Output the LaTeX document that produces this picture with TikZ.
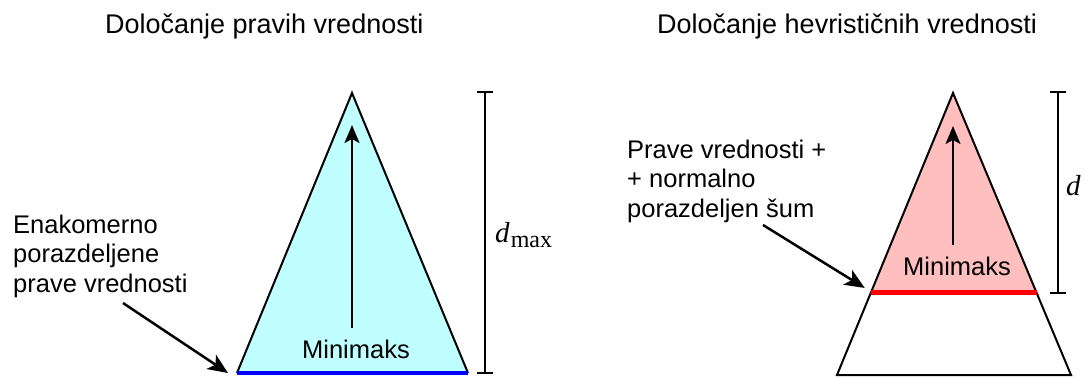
\documentclass[tikz,border=0pt]{standalone}
\usepackage{fontspec}
\setmainfont{Liberation Sans}
\newfontfamily\serifd{Liberation Serif}
\usetikzlibrary{arrows.meta,calc}
\definecolor{lcyan}{RGB}{191,255,255}
\definecolor{lpink}{RGB}{255,191,191}
\begin{document}
\begin{tikzpicture}[x=1pt,y=-1pt,
  title/.style={anchor=base west,inner sep=0pt,font=\fontsize{27}{30}\selectfont},
  label/.style={anchor=base west,inner sep=0pt,align=left,font=\fontsize{25.5}{29.5}\selectfont},
  mm/.style={anchor=base,inner sep=0pt,font=\fontsize{25.5}{30}\selectfont},
  tri/.style={draw=black,line width=2pt,line join=miter},
  bigarrow/.style={line width=2pt,-{Stealth[length=18pt,width=15pt,inset=4pt]}},
  pointer/.style={line width=2.5pt,-{Stealth[length=20pt,width=17pt,inset=5pt]}},
  bar/.style={line width=2pt},
  dlabel/.style={inner sep=0pt,font=\serifd\fontsize{29}{32}\selectfont}]
\useasboundingbox (0,0) rectangle (1085,378);
% titles
\node[title] (t1) at (105,33) {Določanje pravih vrednosti};
\node[title] (t2) at (657,33) {Določanje hevrističnih vrednosti};
% left triangle
\coordinate (LA) at (352,93);
\coordinate (LL) at (237,373);
\coordinate (LR) at (468,373);
\fill[lcyan] (LA) -- (LL) -- (LR) -- cycle;
\draw[tri] (LL) -- (LA) -- (LR);
\draw[blue,line width=4pt] (LL) -- (LR);
\coordinate (LS) at (352,328);
\coordinate (LE) at (352,125);
\draw[bigarrow] (LS) -- (LE);
\node[mm] (m1) at (356,358) {Minimaks};
% dmax bar
\coordinate (B1t) at (485,92);
\coordinate (B1b) at (485,373);
\draw[bar] (B1t) -- (B1b);
\draw[bar] ($(B1t)+(-8,0)$) -- ($(B1t)+(8,0)$);
\draw[bar] ($(B1b)+(-8,0)$) -- ($(B1b)+(8,0)$);
\node[dlabel,anchor=base west] (dmax) at (495,242) {\textit{d}\kern1pt{\fontsize{24}{26}\selectfont\raisebox{-5pt}{max}}};
% left label
\node[label] (lab1) at (13,292) {Enakomerno\\porazdeljene\\prave vrednosti};
\coordinate (P1s) at (123,303);
\draw[pointer] (P1s) -- ($(LL)+(-9,0)$);
% right triangle
\coordinate (RA) at (953,93);
\coordinate (RL) at (837,375);
\coordinate (RR) at (1071,375);
\coordinate (RcL) at ($(RA)!0.709!(RL)$);
\coordinate (RcR) at ($(RA)!0.709!(RR)$);
\fill[lpink] (RA) -- (RcL) -- (RcR) -- cycle;
\draw[tri] (RA) -- (RL) -- (RR) -- cycle;
\draw[red,line width=5pt] (RcL) -- (RcR);
\coordinate (RS) at (953,245);
\coordinate (RE) at (953,126);
\draw[bigarrow] (RS) -- (RE);
\node[mm] (m2) at (957,275) {Minimaks};
% d bar
\coordinate (B2t) at (1058,92);
\coordinate (B2b) at (1058,293);
\draw[bar] (B2t) -- (B2b);
\draw[bar] ($(B2t)+(-8,0)$) -- ($(B2t)+(8,0)$);
\draw[bar] ($(B2b)+(-8,0)$) -- ($(B2b)+(8,0)$);
\node[dlabel,anchor=base west] (dd) at (1066,195) {\textit{d}};
% right label
\node[label] (lab2) at (627,217) {Prave vrednosti +\\+ normalno\\porazdeljen šum};
\coordinate (P2s) at (763,225);
\draw[pointer] (P2s) -- ($(RcL)+(-6,-5)$);
\end{tikzpicture}
\end{document}
